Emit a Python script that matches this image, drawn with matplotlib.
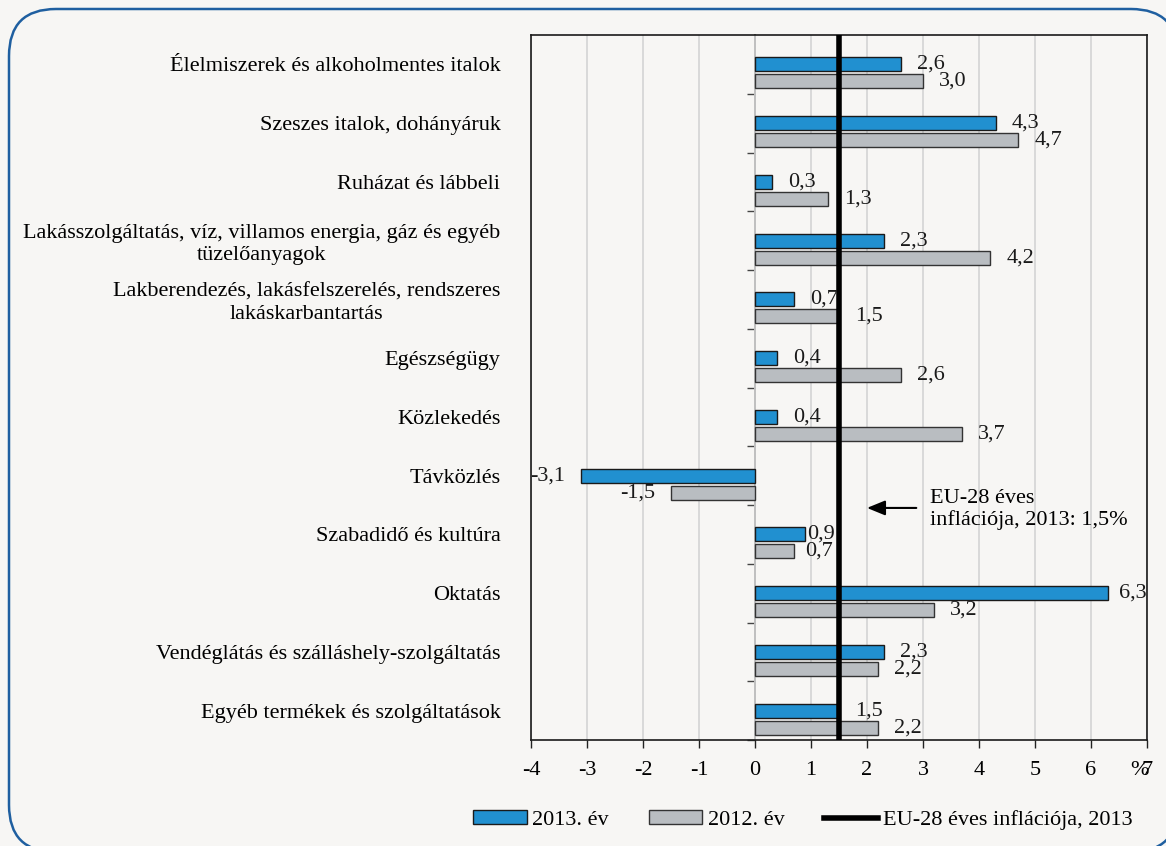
#!/usr/bin/env python3
# -*- coding: utf-8 -*-

import matplotlib
matplotlib.use('Agg')
import matplotlib.pyplot as plt
from matplotlib.patches import FancyBboxPatch

plt.rcParams['font.family'] = ['Liberation Serif', 'DejaVu Serif']

categories = [
    'Élelmiszerek és alkoholmentes italok',
    'Szeszes italok, dohányáruk',
    'Ruházat és lábbeli',
    'Lakásszolgáltatás, víz, villamos energia, gáz és egyéb\ntüzelőanyagok',
    'Lakberendezés, lakásfelszerelés, rendszeres\nlakáskarbantartás',
    'Egészségügy',
    'Közlekedés',
    'Távközlés',
    'Szabadidő és kultúra',
    'Oktatás',
    'Vendéglátás és szálláshely-szolgáltatás',
    'Egyéb termékek és szolgáltatások',
]
v2013 = [2.6, 4.3, 0.3, 2.3, 0.7, 0.4, 0.4, -3.1, 0.9, 6.3, 2.3, 1.5]
v2012 = [3.0, 4.7, 1.3, 4.2, 1.5, 2.6, 3.7, -1.5, 0.7, 3.2, 2.2, 2.2]
eu_infl = 1.5
xticks = [-4, -3, -2, -1, 0, 1, 2, 3, 4, 5, 6, 7]

BLUE = '#2190d0'
GRAY = '#b9bdc1'
BG = '#f7f6f4'
FS = 16

W, H = 1166, 846
fig = plt.figure(figsize=(W / 100, H / 100), dpi=100, facecolor=BG)
ax = fig.add_axes([531 / W, 1 - 740 / H, 616 / W, 705 / H])
ax.set_facecolor(BG)

y = list(range(len(categories)))
y12 = [i + 0.29 for i in y]
hb = ax.barh(y, v2013, height=0.24, color=BLUE, edgecolor='#1a1a1a', lw=1,
             zorder=3, label='2013. év')
hg = ax.barh(y12, v2012, height=0.24, color=GRAY, edgecolor='#333333', lw=1,
             zorder=3, label='2012. év')
ln = ax.axvline(eu_infl, color='black', lw=4, zorder=5,
                label='EU-28 éves inflációja, 2013')

# data labels, 16 px from bar end; a few were nudged in the original
nudge = {(0, 8): 2, (1, 8): 11, (0, 9): 11}
for s, (vals, ys) in enumerate([(v2013, y), (v2012, y12)]):
    for i, (v, yy) in enumerate(zip(vals, ys)):
        off = nudge.get((s, i), 16)
        ax.annotate(f'{v:.1f}'.replace('.', ','), (v, yy),
                    xytext=(off if v >= 0 else -off, 0), textcoords='offset pixels',
                    ha='left' if v >= 0 else 'right', va='center',
                    fontsize=FS, color='#1a1a1a', zorder=6)

ax.set_xlim(-4, 7)
ax.set_ylim(len(categories) - 0.5, -0.5)
ax.set_xticks(xticks)
ax.set_xticklabels([str(t) for t in xticks], fontsize=FS)
ax.tick_params(axis='x', length=6, width=1, pad=9, color='#222222')
ax.grid(axis='x', color='#d4d4d4', lw=1.2, zorder=0)
ax.set_axisbelow(True)

ax.set_yticks(y)
ax.set_yticklabels(categories, fontsize=FS)
ax.tick_params(axis='y', length=0, pad=22)
for t in ax.get_yticklabels():
    t.set_multialignment('center')

for sp in ax.spines.values():
    sp.set_color('#1a1a1a')
    sp.set_linewidth(1.2)

# category axis on the zero line
x0, x1 = ax.get_xlim()
sec = ax.secondary_yaxis((0 - x0) / (x1 - x0))
sec.set_yticks([i + 0.5 for i in y])
sec.set_yticklabels([])
sec.tick_params(length=6, width=1, color='#444444')
sec.spines['left'].set_color('#444444')
sec.spines['left'].set_linewidth(1.2)

ax.annotate('%', (6.86, 0), xycoords=ax.get_xaxis_transform(),
            xytext=(0, -30), textcoords='offset pixels',
            fontsize=FS, ha='center', va='center')

ax.annotate('', xy=(1.95, 7.55), xytext=(2.93, 7.55),
            arrowprops=dict(arrowstyle='-|>,head_length=1.1,head_width=0.45',
                            color='black', lw=1.5), zorder=6)
ax.text(3.12, 7.58, 'EU-28 éves\ninflációja, 2013: 1,5%', fontsize=FS,
        ha='left', va='center', linespacing=1.15, zorder=6)

fig.legend(handles=[hb, hg, ln], loc='center', bbox_to_anchor=(803 / W, 1 - 820 / H),
           ncol=3, frameon=False, fontsize=FS, handlelength=2.4, handleheight=0.6,
           handletextpad=0.25, columnspacing=1.8)

# rounded frame, runs off the right and bottom edges; filled so agg doesn't clip the curves
border = FancyBboxPatch((9 / W, -6 / H), 1169 / W, 843 / H,
                        boxstyle=f'round,pad=0,rounding_size={47 / W}',
                        mutation_aspect=W / H, transform=fig.transFigure,
                        facecolor=BG, edgecolor='#1f5fa0', lw=1.8, zorder=-1)
fig.patches.append(border)

fig.savefig('out.png', dpi=100, facecolor=BG)
